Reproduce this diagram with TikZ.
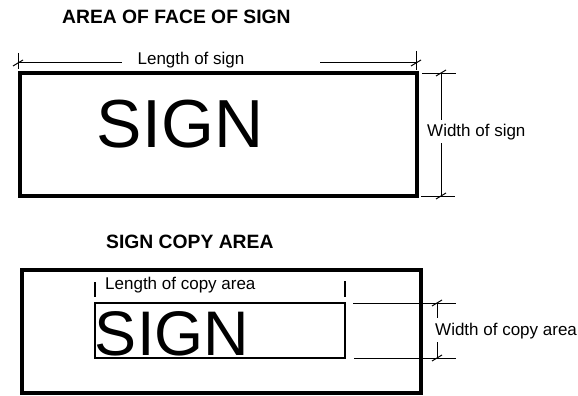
\documentclass[tikz,border=0pt]{standalone}
\usepackage{fontspec}
\setmainfont{Liberation Sans}
\usetikzlibrary{math}

\begin{document}
\begin{tikzpicture}[x=1pt,y=-1pt]
\tikzmath{
\lw=3.3;
\tk=5;
}
\useasboundingbox (0,0) rectangle (578,396);

% area of face of sign
\node[anchor=west, inner sep=0, font=\bfseries\fontsize{19.3}{21}\selectfont] (titleface) at (62,17) {AREA OF FACE OF SIGN};
\draw[line width=\lw] (20,73) rectangle (417,196);
\node[anchor=base, inner sep=0, font=\fontsize{68}{70}\selectfont] (signface) at (180,147) {SIGN};

\node[anchor=base, inner sep=0, font=\fontsize{17}{19}\selectfont] (lensign) at (191,65) {Length of sign};
\coordinate (lenA) at (18,63);
\coordinate (lenB) at (416,63);
\draw[line width=1] (lenA) -- (122,63);
\draw[line width=1] (320,63) -- (lenB);
\draw[line width=1] (18,53) -- (18,69);
\draw[line width=1] (416,51) -- (416,70);

\node[anchor=base west, inner sep=0, font=\fontsize{17}{19}\selectfont] (widsign) at (427,136) {Width of sign};
\coordinate (widA) at (441,73);
\coordinate (widB) at (441,196);
\draw[line width=1] (422,73) -- (456,73);
\draw[line width=1] (421,196) -- (455,196);
\draw[line width=1] (widA) -- (441,120);
\draw[line width=1] (441,143) -- (widB);

% sign copy area
\node[anchor=west, inner sep=0, font=\bfseries\fontsize{19.3}{21}\selectfont] (titlecopy) at (106,242) {SIGN COPY AREA};
\draw[line width=\lw] (22,270) rectangle (421,393);
\draw[line width=1.8] (95,303) rectangle (345,358);
\node[anchor=base, inner sep=0, font=\fontsize{63}{65}\selectfont] (signcopy) at (172,355) {SIGN};

\node[anchor=base west, inner sep=0, font=\fontsize{17}{19}\selectfont] (lencopy) at (105,289) {Length of copy area};
\draw[line width=1.8] (95,282) -- (95,297);
\draw[line width=1.8] (345,281) -- (345,297);

\node[anchor=base west, inner sep=0, font=\fontsize{17}{19}\selectfont] (widcopy) at (435,335) {Width of copy area};
\coordinate (cwidA) at (437,303);
\coordinate (cwidB) at (437,358);
\draw[line width=1] (353,303) -- (456,303);
\draw[line width=1] (354,358) -- (456,358);
\draw[line width=1] (cwidA) -- (437,318);
\draw[line width=1] (437,342) -- (cwidB);

% ticks
\foreach \p in {lenA,lenB,widA,widB,cwidA,cwidB}{
 \draw[line width=1] (\p) ++(-\tk,3) -- ++(2*\tk,-6);
}
\end{tikzpicture}
\end{document}
